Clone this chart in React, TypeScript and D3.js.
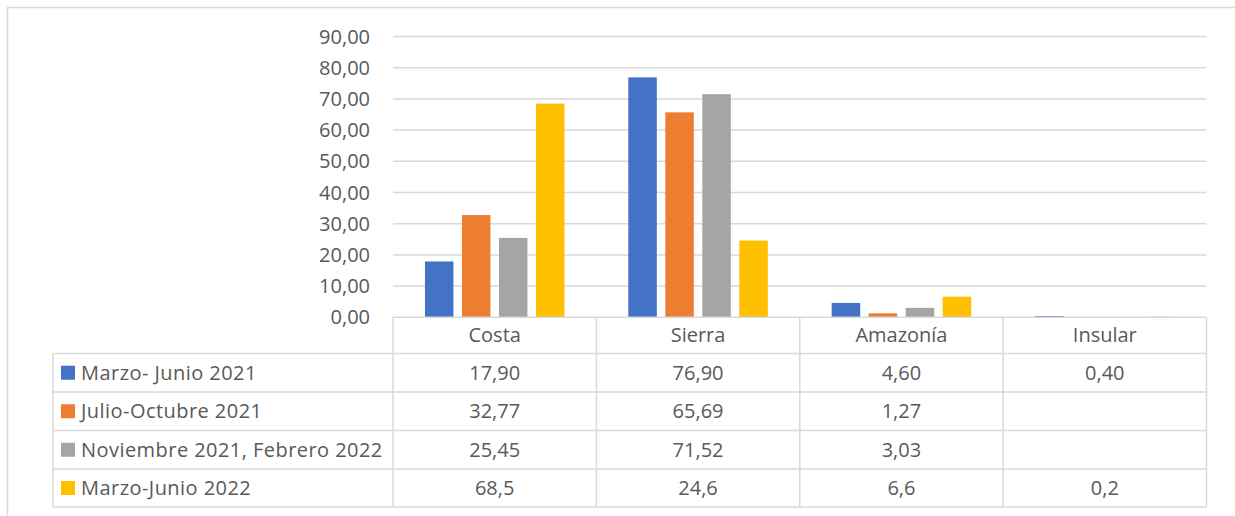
import React from "react";
import * as d3 from "d3";

const categories = ["Costa", "Sierra", "Amazonía", "Insular"];
const seriesNames = [
  "Marzo- Junio 2021",
  "Julio-Octubre 2021",
  "Noviembre 2021, Febrero 2022",
  "Marzo-Junio 2022",
];
const seriesColors = ["#4472C4", "#ED7D31", "#A5A5A5", "#FFC000"];
const marzoJunio2021: (number | null)[] = [17.9, 76.9, 4.6, 0.4];
const julioOctubre2021: (number | null)[] = [32.77, 65.69, 1.27, null];
const noviembreFebrero: (number | null)[] = [25.45, 71.52, 3.03, null];
const marzoJunio2022: (number | null)[] = [68.5, 24.6, 6.6, 0.2];
const seriesValues = [marzoJunio2021, julioOctubre2021, noviembreFebrero, marzoJunio2022];
const seriesDecimals = [2, 2, 2, 1];
const yTicks = [0, 10, 20, 30, 40, 50, 60, 70, 80, 90];

const W = 1235;
const H = 516;
const plotLeft = 393;
const plotRight = 1206.5;
const plotTop = 36.5;
const plotBottom = 317.3;
const tableLeft = 53;
const rowLines = [317.3, 353.5, 392, 430.5, 469, 507];
const gridColor = "#D9D9D9";
const textColor = "#595959";
const FONT = "'Open Sans', sans-serif";

const fmt = (v: number, d: number) => v.toFixed(d).replace(".", ",");

export default function App() {
  const x = d3.scaleBand<string>().domain(categories).range([plotLeft, plotRight]).padding(0);
  const y = d3.scaleLinear().domain([0, 90]).range([plotBottom, plotTop]);
  const bw = x.bandwidth();
  const barW = 28.5;
  const step = 37;
  const groupW = barW + step * 3;
  const off = (bw - groupW) / 2;

  return (
    <svg width={W} height={H} style={{ position: "absolute", left: 0, top: 0 }} fontFamily={FONT}>
      <rect x={0} y={0} width={W} height={H} fill="#fff" />
      {/* outer frame */}
      <line x1={7} y1={7.5} x2={W} y2={7.5} stroke={gridColor} strokeWidth={1.5} />
      <line x1={7.5} y1={7} x2={7.5} y2={H} stroke={gridColor} strokeWidth={1.5} />
      {/* gridlines */}
      {yTicks.slice(1).map((t) => (
        <line key={t} x1={plotLeft} x2={plotRight} y1={y(t)} y2={y(t)} stroke={gridColor} strokeWidth={1.5} />
      ))}
      {/* tick labels */}
      {yTicks.map((t) => (
        <text key={t} x={370} y={y(t)} dy="0.35em" textAnchor="end" fontSize={20} fill={textColor}>
          {fmt(t, 2)}
        </text>
      ))}
      {/* bars */}
      {seriesValues.map((vals, si) =>
        vals.map((v, ci) =>
          v == null ? null : (
            <rect
              key={`${si}-${ci}`}
              x={(x(categories[ci]) as number) + off + si * step}
              y={y(v)}
              width={barW}
              height={plotBottom - y(v)}
              fill={seriesColors[si]}
            />
          )
        )
      )}
      {/* table lines */}
      <line x1={plotLeft} x2={plotRight} y1={rowLines[0]} y2={rowLines[0]} stroke={gridColor} strokeWidth={1.5} />
      {rowLines.slice(1).map((ry, i) => (
        <line key={i} x1={tableLeft} x2={plotRight} y1={ry} y2={ry} stroke={gridColor} strokeWidth={1.5} />
      ))}
      <line x1={tableLeft} x2={tableLeft} y1={rowLines[1]} y2={rowLines[5]} stroke={gridColor} strokeWidth={1.5} />
      {categories.map((c) => (
        <line key={c} x1={x(c)} x2={x(c)} y1={rowLines[0]} y2={rowLines[5]} stroke={gridColor} strokeWidth={1.5} />
      ))}
      <line x1={plotRight} x2={plotRight} y1={rowLines[0]} y2={rowLines[5]} stroke={gridColor} strokeWidth={1.5} />
      {/* header */}
      {categories.map((c) => (
        <text
          key={c}
          x={(x(c) as number) + bw / 2}
          y={(rowLines[0] + rowLines[1]) / 2}
          dy="0.35em"
          textAnchor="middle"
          fontSize={20}
          fill={textColor}
        >
          {c}
        </text>
      ))}
      {/* rows */}
      {seriesNames.map((name, si) => {
        const cy = (rowLines[si + 1] + rowLines[si + 2]) / 2;
        return (
          <g key={name}>
            <rect x={61} y={cy - 7} width={14} height={14} fill={seriesColors[si]} />
            <text x={81} y={cy} dy="0.35em" fontSize={20} letterSpacing={0.45} fill={textColor}>
              {name}
            </text>
            {seriesValues[si].map((v, ci) =>
              v == null ? null : (
                <text
                  key={ci}
                  x={(x(categories[ci]) as number) + bw / 2}
                  y={cy}
                  dy="0.35em"
                  textAnchor="middle"
                  fontSize={20}
                  fill={textColor}
                >
                  {fmt(v, seriesDecimals[si])}
                </text>
              )
            )}
          </g>
        );
      })}
    </svg>
  );
}
